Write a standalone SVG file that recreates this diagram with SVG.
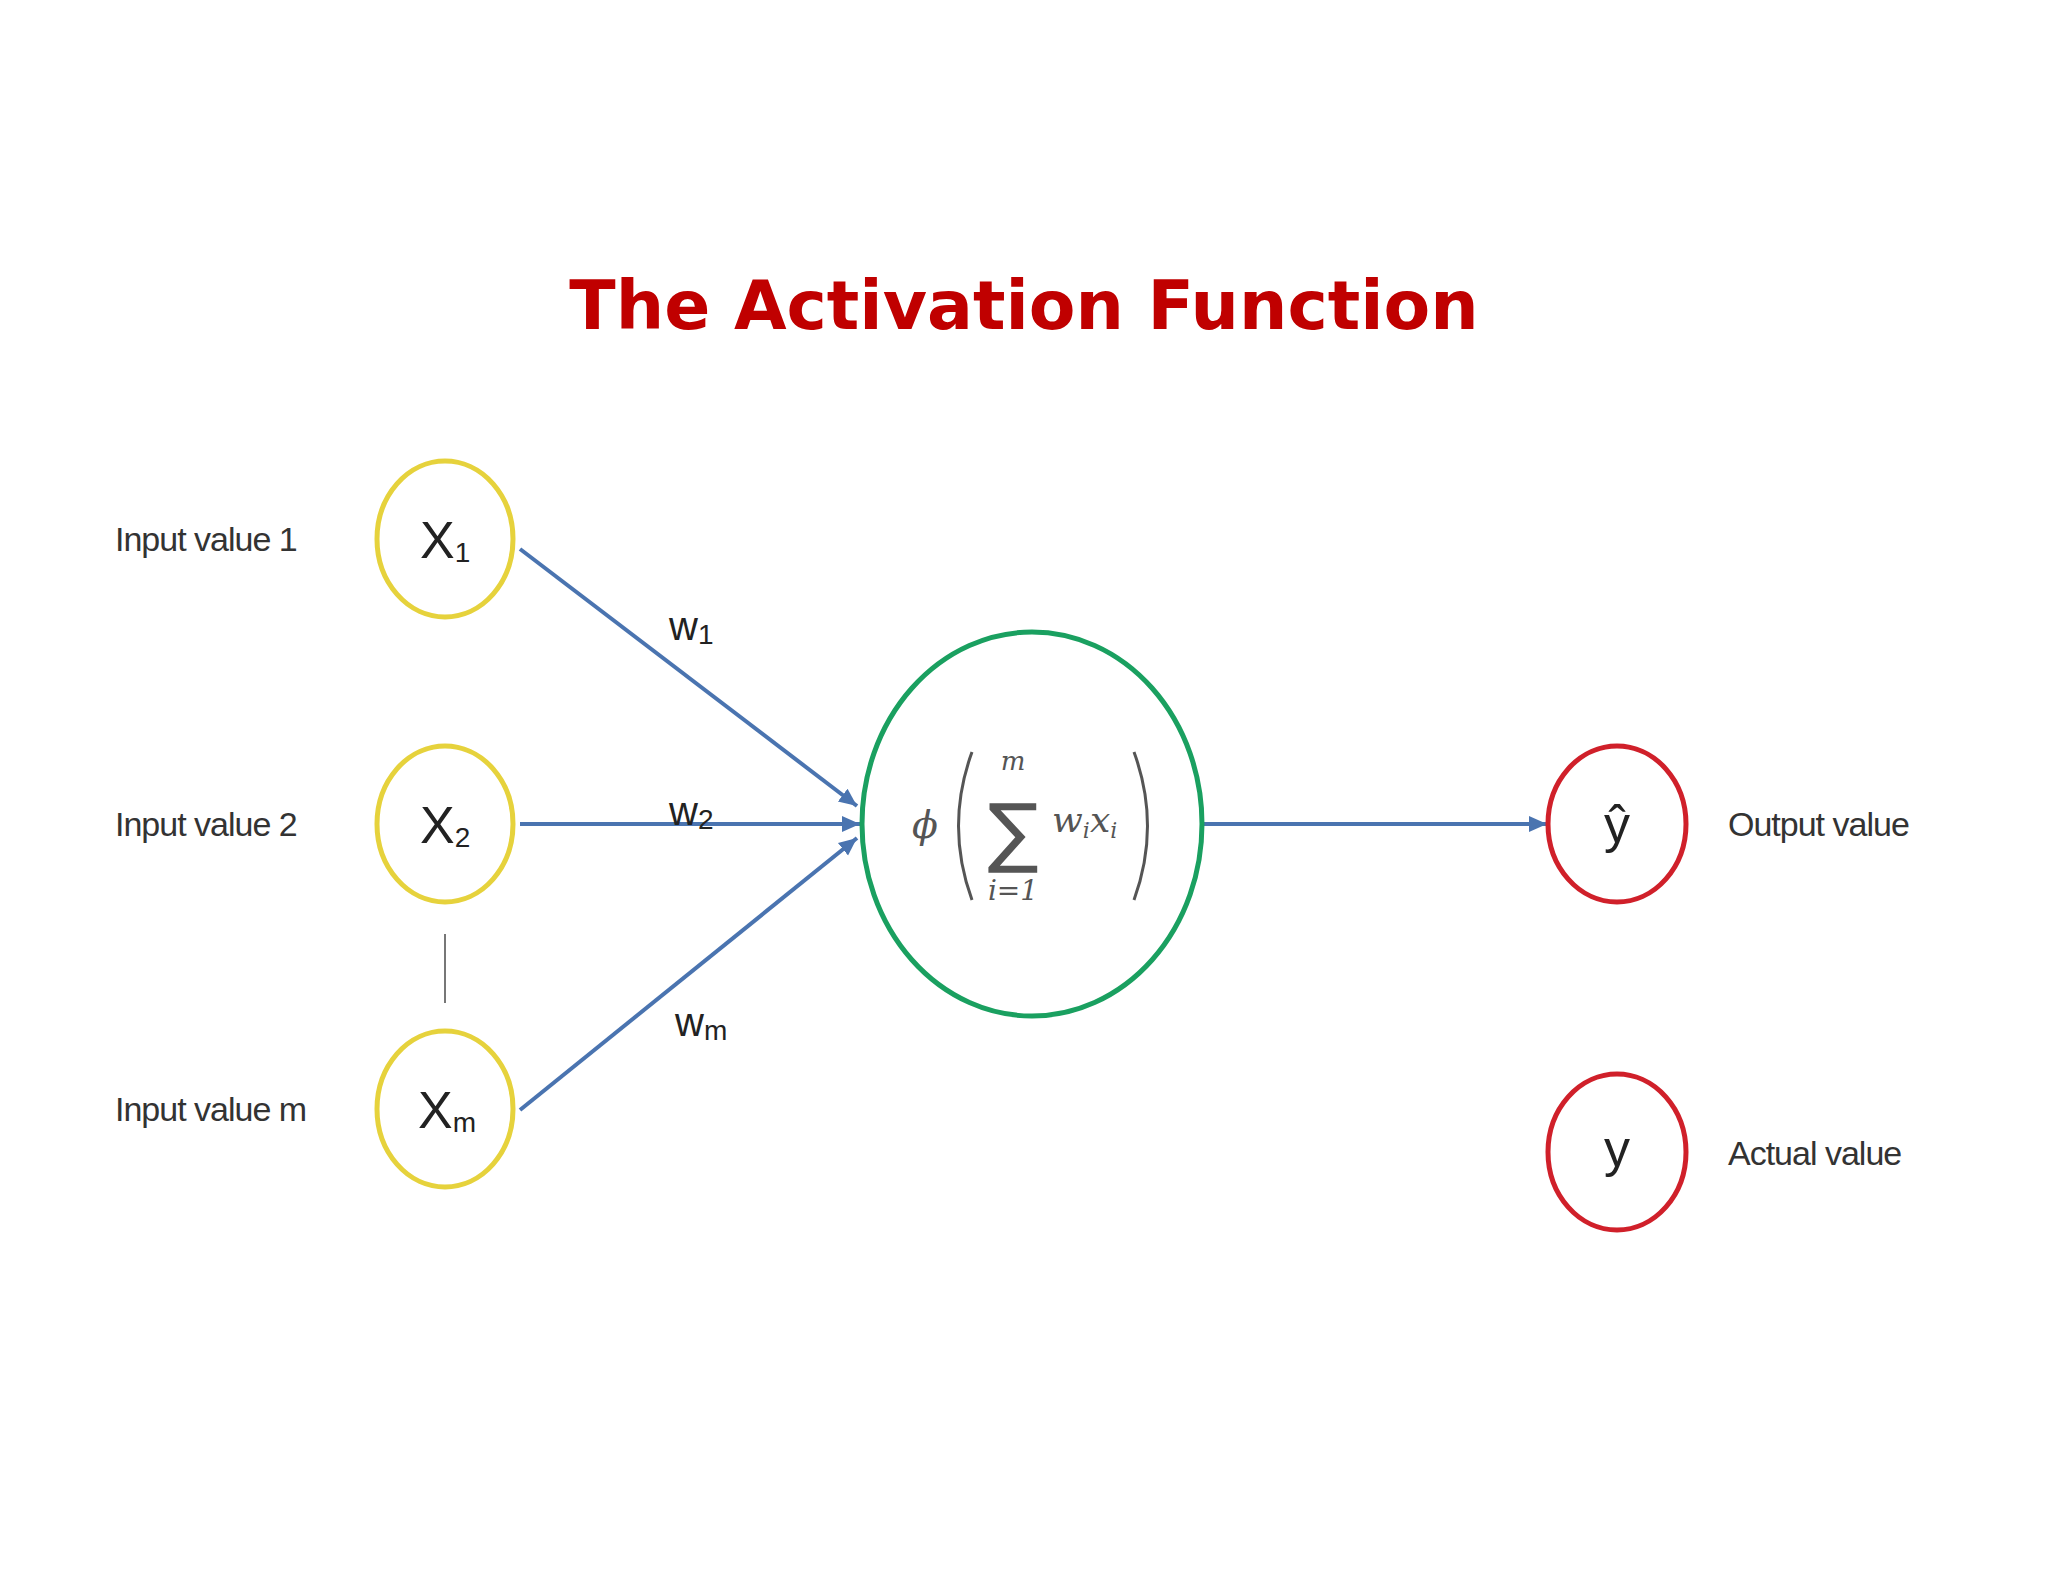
<svg xmlns="http://www.w3.org/2000/svg" width="2048" height="1582" viewBox="0 0 2048 1582">
<style>
.lbl{font-family:"Liberation Sans",Arial,sans-serif;font-size:34px;fill:#333;letter-spacing:-1px}
.in{fill:#fff;stroke:#e6d23c;stroke-width:5}
.out{fill:#fff;stroke:#d0202a;stroke-width:5}
.sym{font-family:"Liberation Sans",Arial,sans-serif;font-size:52px;fill:#222}
.sub{font-size:28px}
.w{font-family:"Liberation Sans",Arial,sans-serif;font-size:40px;fill:#222}
.conn{stroke:#4a74b0;stroke-width:4;fill:none;marker-end:url(#ah)}
.m{font-family:"DejaVu Serif","Liberation Serif",serif;fill:#555;font-style:italic}
</style>
<defs>
<marker id="ah" markerWidth="5" markerHeight="5" refX="4.5" refY="2.5" orient="auto" markerUnits="strokeWidth">
<path d="M0,0.5 L4.5,2.5 L0,4.5 Z" fill="#4a74b0"/>
</marker>
</defs>
<rect width="2048" height="1582" fill="#fff"/>
<text x="1024" y="329" text-anchor="middle" font-family="'Comic Sans MS','DejaVu Sans',sans-serif" font-weight="bold" font-size="68" fill="#c00000">The Activation Function</text>
<g id="connectors">
<line class="conn" x1="520" y1="549" x2="857" y2="806"/>
<line class="conn" x1="520" y1="824" x2="860" y2="824"/>
<line class="conn" x1="520" y1="1110" x2="857" y2="838"/>
<line class="conn" x1="1204" y1="824" x2="1547" y2="824"/>
<line x1="445" y1="934" x2="445" y2="1003" stroke="#777" stroke-width="2"/>
<text class="w" x="669" y="640">w<tspan class="sub" dy="4">1</tspan></text>
<text class="w" x="669" y="825">w<tspan class="sub" dy="4">2</tspan></text>
<text class="w" x="675" y="1036">w<tspan class="sub" dy="4">m</tspan></text>
</g>
<g id="x1"><text class="lbl" x="115" y="551">Input value 1</text><ellipse class="in" cx="445" cy="539" rx="68" ry="78"/><text class="sym" x="420" y="558">X<tspan class="sub" dy="4">1</tspan></text></g>
<g id="x2"><text class="lbl" x="115" y="836">Input value 2</text><ellipse class="in" cx="445" cy="824" rx="68" ry="78"/><text class="sym" x="420" y="843">X<tspan class="sub" dy="4">2</tspan></text></g>
<g id="xm"><text class="lbl" x="115" y="1121">Input value m</text><ellipse class="in" cx="445" cy="1109" rx="68" ry="78"/><text class="sym" x="418" y="1128">X<tspan class="sub" dy="4">m</tspan></text></g>
<g id="neuron">
<ellipse cx="1032" cy="824" rx="170" ry="192" fill="#fff" stroke="#1aa060" stroke-width="5"/>
<text class="m" x="912" y="838" font-size="38">ϕ</text>
<path d="M972,752 Q945,826 972,900" stroke="#555" stroke-width="3" fill="none"/>
<path d="M1134,752 Q1161,826 1134,900" stroke="#555" stroke-width="3" fill="none"/>
<text class="m" x="1013" y="770" font-size="26" text-anchor="middle">m</text>
<text x="1013" y="858" font-family="'DejaVu Sans',sans-serif" font-size="76" fill="#555" text-anchor="middle">∑</text>
<text class="m" x="1013" y="900" font-size="28" text-anchor="middle">i=1</text>
<text class="m" x="1052" y="832" font-size="36">w<tspan font-size="22" dy="6">i</tspan><tspan dy="-6">x</tspan><tspan font-size="22" dy="6">i</tspan></text>
</g>
<g id="yhat"><ellipse class="out" cx="1617" cy="824" rx="69" ry="78"/><text class="sym" x="1617" y="842" text-anchor="middle">ŷ</text><text class="lbl" x="1728" y="836">Output value</text></g>
<g id="y"><ellipse class="out" cx="1617" cy="1152" rx="69" ry="78"/><text class="sym" x="1617" y="1166" text-anchor="middle">y</text><text class="lbl" x="1728" y="1165">Actual value</text></g>
</svg>
